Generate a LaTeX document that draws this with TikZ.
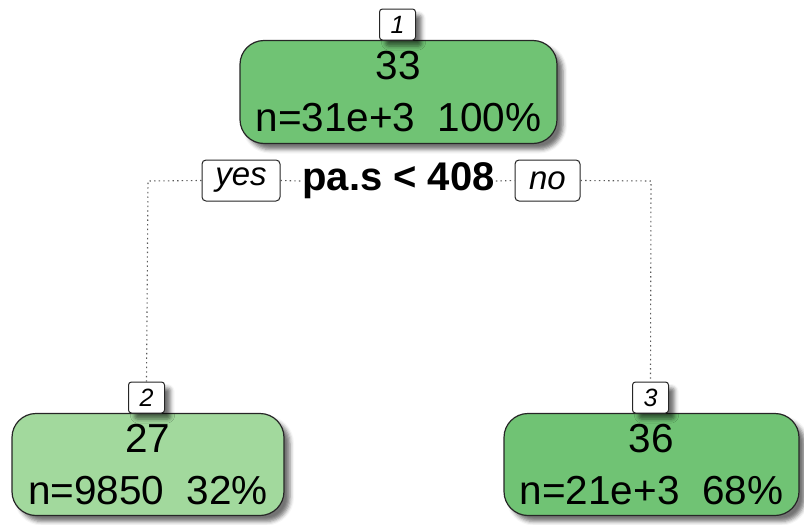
\documentclass[tikz,border=0pt]{standalone}
\usepackage{fontspec}
\setmainfont{Liberation Sans}
\usetikzlibrary{shadows.blur}
\definecolor{gdark}{HTML}{70C374}
\definecolor{glight}{HTML}{A2D99D}
\definecolor{dotc}{HTML}{5A5A5A}
\begin{document}
\begin{tikzpicture}[x=1pt,y=-1pt,
  shad/.style={blur shadow={shadow xshift=6pt, shadow yshift=-6pt, shadow blur radius=4pt, shadow opacity=55}},
  treenode/.style={shad, draw=black!85, line width=1.2pt, rounded corners=24pt, align=center,
     font=\fontsize{40.5}{52}\selectfont, inner sep=0pt},
  numbox/.style={shad, draw=black!85, fill=white, line width=1pt, rounded corners=3pt,
     font=\fontsize{25}{25}\selectfont\itshape, inner sep=0pt, minimum width=36pt, minimum height=31pt},
  ansbox/.style={draw=black!85, fill=white, line width=1pt, rounded corners=4pt,
     font=\fontsize{33}{33}\selectfont\itshape, inner sep=0pt, minimum height=41pt},
  conn/.style={dotc, line width=1.1pt, dash pattern=on 1.4pt off 3.2pt}
]
\useasboundingbox (0,0) rectangle (804,525);

\coordinate (cl) at (148,181);
\coordinate (cr) at (651,181);

\node[treenode, fill=gdark, minimum width=317pt, minimum height=103pt] (n1) at (398.5,92) {33\\n=31e+3\ \ 100\%};
\node[numbox] (l1) at (397.5,24.5) {1};

\node[treenode, fill=glight, minimum width=272pt, minimum height=102pt] (n2) at (148,464.5) {27\\n=9850\ \ 32\%};
\node[numbox] (l2) at (146.5,397.5) {2};

\node[treenode, fill=gdark, minimum width=295pt, minimum height=102pt] (n3) at (651.5,464.5) {36\\n=21e+3\ \ 68\%};
\node[numbox] (l3) at (650.5,397.5) {3};

\node[ansbox, minimum width=78pt] (yes) at (241,180.5) {yes};
\node[ansbox, minimum width=65pt] (no) at (547.5,180.5) {no};
\node[font=\fontsize{40}{40}\selectfont\bfseries, inner sep=1pt] (split) at (398.5,181) {pa.s < 408};

\draw[conn] (yes.west) -- (cl) -- (l2.north);
\draw[conn] (no.east) -- (cr) -- (l3.north);
\draw[conn] (yes.east) -- (split.west);
\draw[conn] (split.east) -- (no.west);
\end{tikzpicture}
\end{document}
